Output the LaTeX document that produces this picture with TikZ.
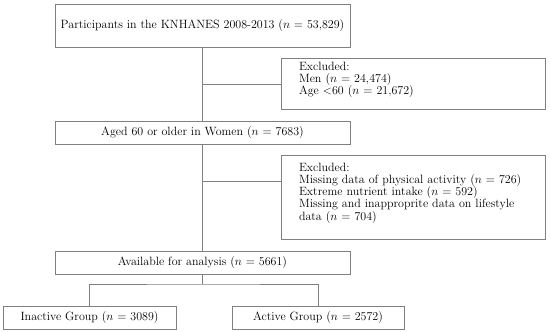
\documentclass[tikz,border=0pt]{standalone}
\usepackage{amsmath,amssymb}
\usepackage{tikz}
\usetikzlibrary{positioning,calc}
\usepackage{xcolor}
\definecolor{linegray}{RGB}{128,128,128}
\newcommand{\lowpad}{\rule[-11pt]{0pt}{1pt}}

\begin{document}
\begin{tikzpicture}[x=1pt,y=-1pt,
    font=\fontsize{12}{12.2}\selectfont,
    mainbox/.style={rectangle,draw=linegray,line width=0.8pt,minimum width=295pt,minimum height=23pt,inner sep=2pt},
    exclbox/.style={rectangle,draw=linegray,line width=0.8pt,minimum width=264pt,text width=228pt,align=left,inner xsep=18pt,inner ysep=4pt},
    groupbox/.style={rectangle,draw=linegray,line width=0.8pt,minimum width=173pt,minimum height=23pt,inner sep=2pt},
    link/.style={draw=linegray,line width=0.8pt}]
\useasboundingbox (0,0) rectangle (550,332);
% main flow
\node[mainbox,minimum height=43pt] (top) at (202.5,25.5) {Participants in the KNHANES 2008-2013 ($n$ = 53,829)};
\node[mainbox] (aged) at (202.5,132.5) {Aged 60 or older in Women ($n$ = 7683)};
\node[mainbox] (avail) at (202.5,262.5) {Available for analysis ($n$ = 5661)};
% exclusions
\node[exclbox,minimum height=50pt] (excl1) at (413,84) {Excluded:\\ Men ($n$ = 24,474)\\ Age <60 ($n$ = 21,672)\lowpad};
\node[exclbox,minimum height=84pt] (excl2) at (413,197) {Excluded:\\ Missing data of physical activity ($n$ = 726)\\ Extreme nutrient intake ($n$ = 592)\\ Missing and inapproprite data on lifestyle\\ data ($n$ = 704)\lowpad};
% groups
\node[groupbox] (inact) at (89.5,317.5) {Inactive Group ($n$ = 3089)};
\node[groupbox,minimum width=172pt] (act) at (318,317.5) {Active Group ($n$ = 2572)};
\coordinate (b1) at (202.5,84);
\coordinate (b2) at (202.5,181);
\coordinate (split) at (202.5,284);
% connectors
\draw[link] (top.south) -- (aged.north);
\draw[link] (b1) -- (b1 -| excl1.west);
\draw[link] (aged.south) -- (avail.north);
\draw[link] (b2) -- (b2 -| excl2.west);
\draw[link] (avail.south) -- (split);
\draw[link] (inact.north) |- (split) -| (act.north);
\end{tikzpicture}
\end{document}
